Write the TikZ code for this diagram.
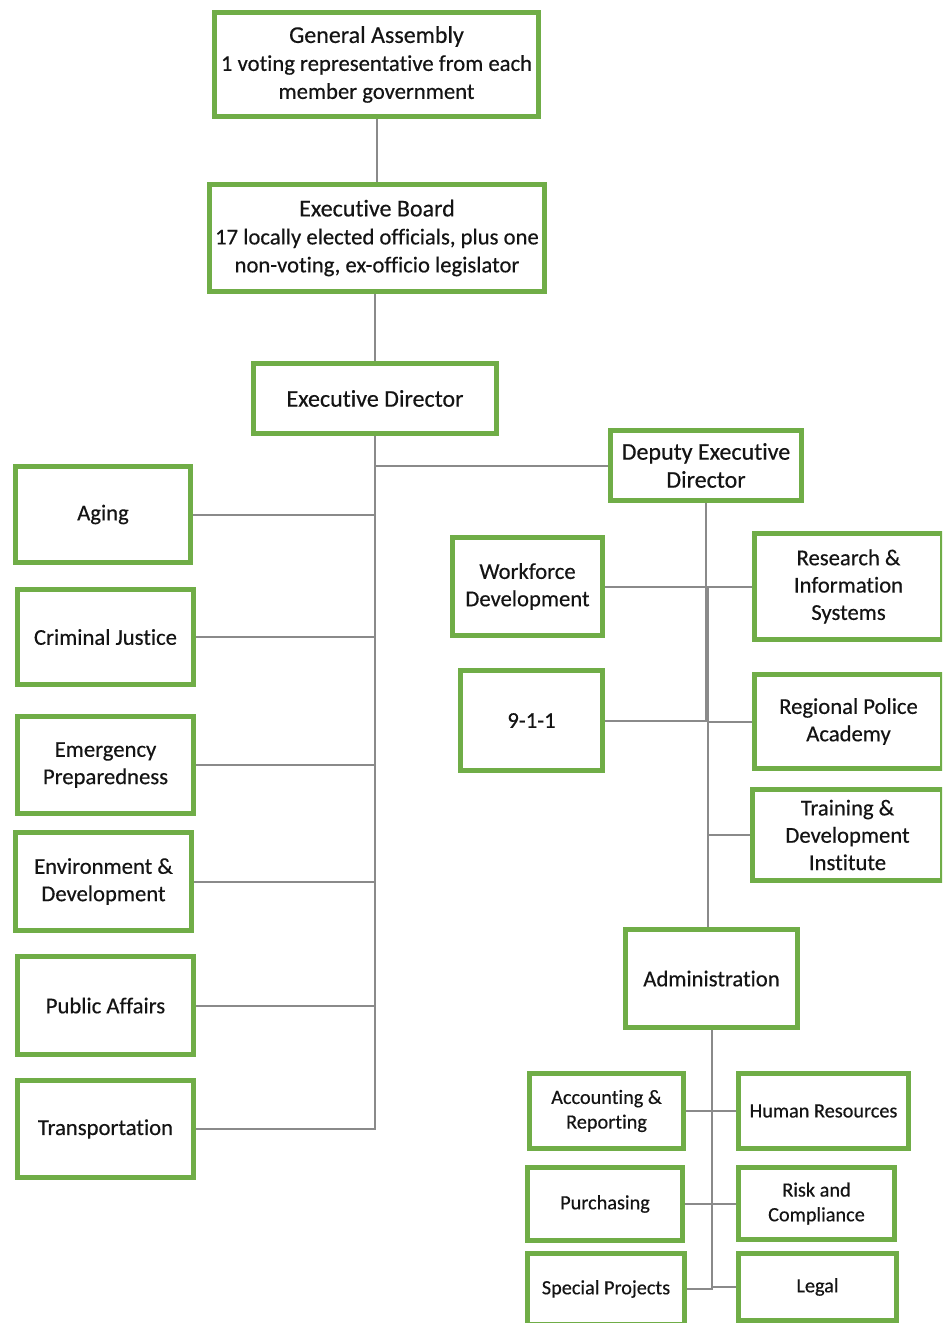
\documentclass[tikz,border=0pt]{standalone}
\usepackage{fontspec}
\setmainfont{Carlito}[Ligatures=NoCommon,FakeBold=0.4]
\definecolor{boxgreen}{HTML}{70AD47}
\definecolor{linegray}{HTML}{8A8A8A}
\tikzset{
  orgbox/.style={draw=boxgreen, line width=4pt, fill=white, align=center, inner sep=1pt,
    text=black!92, font=\fontsize{17}{20.5}\selectfont},
  bigtext/.style={font=\fontsize{18}{21}\selectfont},
  smalltext/.style={font=\fontsize{15.2}{18.5}\selectfont},
  conn/.style={draw=linegray, line width=1.5pt}
}
\newcommand\orgnode[7][]{%
  \node[orgbox,#1,minimum width={(#5-#3)*0.75pt-4pt},minimum height={(#6-#4)*0.75pt-4pt}]
    (#2) at ({(#3+#5)/2},{(#4+#6)/2}) {#7};}
\begin{document}
\begin{tikzpicture}[x=0.75pt,y=-0.75pt]
\useasboundingbox (0,0) rectangle (942,1323);
\clip (0,0) rectangle (942,1323);
\fill[white] (0,0) rectangle (942,1323);
% nodes
\orgnode[bigtext]{ga}{212}{10}{541}{119}{General Assembly\\{\fontsize{17}{21.4}\selectfont 1 voting representative from each}\\{\fontsize{17}{21.4}\selectfont member government}}
\orgnode[bigtext]{eb}{207}{182}{547}{294}{Executive Board\\{\fontsize{17}{20.5}\selectfont 17 locally elected officials, plus one}\\{\fontsize{17}{20.5}\selectfont non-voting, ex-officio legislator}}
\orgnode[bigtext]{ed}{251}{361}{499}{436}{Executive Director}
\orgnode[bigtext]{ded}{608}{428}{804}{503}{Deputy Executive\\Director}
\orgnode{ag}{13}{464}{193}{565}{Aging}
\orgnode{cj}{15}{587}{196}{687}{Criminal Justice}
\orgnode{ep}{15}{714}{196}{816}{Emergency\\Preparedness}
\orgnode{en}{13}{830}{194}{933}{Environment \&\\Development}
\orgnode{pa}{15}{954}{196}{1057}{Public Affairs}
\orgnode{tr}{15}{1078}{196}{1180}{Transportation}
\orgnode{wf}{450}{535}{605}{638}{Workforce\\Development}
\orgnode{ris}{752}{531}{945}{642}{Research \&\\Information\\Systems}
\orgnode{nine}{458}{668}{605}{773}{9-1-1}
\orgnode{rpa}{752}{672}{945}{771}{Regional Police\\Academy}
\orgnode{tdi}{750}{787}{945}{883}{Training \&\\Development\\Institute}
\orgnode{adm}{623}{927}{800}{1030}{Administration}
\orgnode[smalltext]{acc}{527}{1071}{686}{1151}{Accounting \&\\Reporting}
\orgnode[smalltext]{hr}{736}{1071}{911}{1151}{Human Resources}
\orgnode[smalltext]{pur}{525}{1165}{685}{1243}{Purchasing}
\orgnode[smalltext]{risk}{736}{1165}{897}{1242}{Risk and\\Compliance}
\orgnode[smalltext]{sp}{525}{1251}{687}{1327}{Special Projects}
\orgnode[smalltext]{leg}{736}{1251}{899}{1323}{Legal}
% connectors
\draw[conn] (ga.south) -- (ga.south |- eb.north);
\draw[conn] (ed.north) -- (ed.north |- eb.south);
\draw[conn] (ed.south) -- (ed.south |- tr.east) -- (tr.east);
\draw[conn] (ed.south |- ded.west) -- (ded.west);
\foreach \n in {ag,cj,ep,en,pa}{\draw[conn] (\n.east) -- (\n.east -| ed.south);}
\draw[conn] (ded.south) -- (ded.south |- nine.east) -- (nine.east);
\draw[conn] (wf.east) -- (wf.east -| ded.south);
\coordinate (dsp) at ([xshift=1.2pt]ded.south);
\draw[conn] (ris.west) -- (dsp |- ris.west) -- (dsp |- adm.north);
\foreach \n in {rpa,tdi}{\draw[conn] (\n.west) -- (\n.west -| dsp);}
\draw[conn] (adm.south) -- (adm.south |- sp.east) -- (sp.east);
\foreach \n in {acc,pur}{\draw[conn] (\n.east) -- (\n.east -| adm.south);}
\foreach \n in {hr,risk,leg}{\draw[conn] (\n.west) -- (\n.west -| adm.south);}
\end{tikzpicture}
\end{document}
